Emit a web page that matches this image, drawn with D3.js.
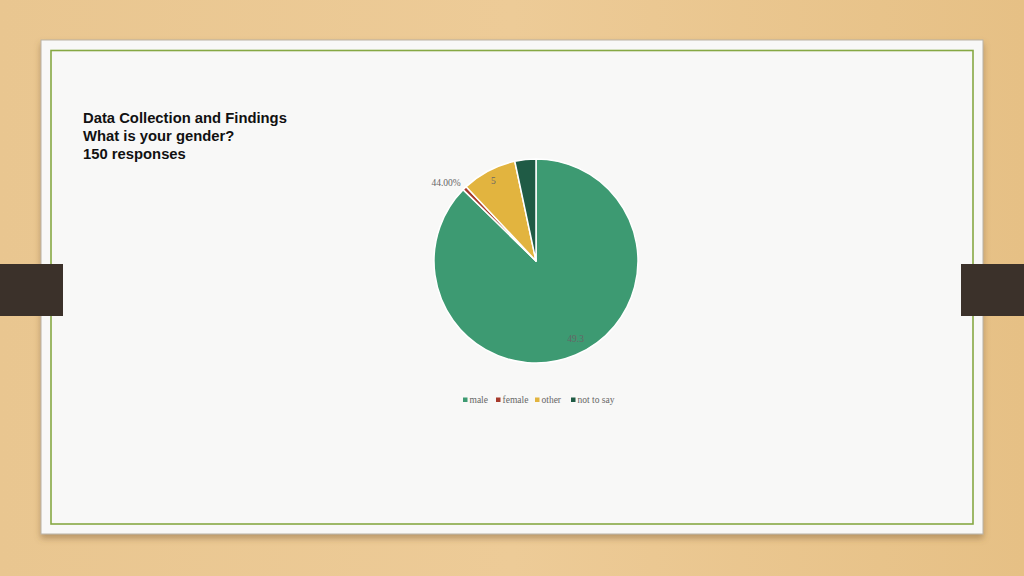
<!DOCTYPE html>
<html lang="en">
<head>
    <meta charset="UTF-8">
    <title>gender pie</title>
    <script src="https://d3js.org/d3.v7.min.js"></script>
    <style>
        body { margin: 0; overflow: hidden; }
    </style>
</head>
<body>
<script>
    // data
    var categories = ["male", "female", "other", "not to say"];
    var counts = [131, 1, 13, 5];
    var sliceLabels = ["49.3", "44.00%", "5", ""];
    var colors = ["#3d9a72", "#a63a2c", "#e2b43f", "#1f5b45"];
    var titleLines = ["Data Collection and Findings", "What is your gender?", "150 responses"];

    var width = 1024, height = 576;

    var svg = d3.select("body").append("svg")
        .attr("width", width)
        .attr("height", height);

    var defs = svg.append("defs");
    var wood = defs.append("linearGradient").attr("id", "wood")
        .attr("x1", 0).attr("y1", 0).attr("x2", 1).attr("y2", 0);
    wood.append("stop").attr("offset", "0%").attr("stop-color", "#e9c690");
    wood.append("stop").attr("offset", "50%").attr("stop-color", "#edcb97");
    wood.append("stop").attr("offset", "100%").attr("stop-color", "#e6c085");

    var shadow = defs.append("filter").attr("id", "shadow")
        .attr("x", "-5%").attr("y", "-5%").attr("width", "110%").attr("height", "115%");
    shadow.append("feDropShadow").attr("dx", 0).attr("dy", 4)
        .attr("stdDeviation", 3).attr("flood-color", "#7a5a30").attr("flood-opacity", 0.45);

    // background + slide card
    svg.append("rect").attr("width", width).attr("height", height).attr("fill", "url(#wood)");
    svg.append("rect").attr("x", 41).attr("y", 40).attr("width", 942).attr("height", 494)
        .attr("fill", "#f8f8f7").attr("stroke", "#b9b2a4").attr("stroke-width", 1)
        .attr("filter", "url(#shadow)");
    svg.append("rect").attr("x", 51).attr("y", 50.5).attr("width", 922).attr("height", 473.5)
        .attr("fill", "none").attr("stroke", "#86a843").attr("stroke-width", 1.6);

    // side tabs
    svg.append("rect").attr("x", 0).attr("y", 264).attr("width", 63).attr("height", 52)
        .attr("fill", "#3b312a");
    svg.append("rect").attr("x", 961).attr("y", 264).attr("width", 63).attr("height", 52)
        .attr("fill", "#3b312a");

    // title
    svg.append("g").selectAll("text")
        .data(titleLines)
        .enter().append("text")
        .attr("x", 83)
        .attr("y", function (d, i) { return 123 + i * 18; })
        .attr("font-family", "Liberation Sans, Arial, sans-serif")
        .attr("font-weight", "bold")
        .attr("font-size", 14.8)
        .attr("fill", "#111")
        .text(function (d) { return d; });

    // pie
    var cx = 536, cy = 261, r = 102;
    var pie = d3.pie().sort(null).value(function (d) { return d; });
    var arc = d3.arc().innerRadius(0).outerRadius(r);
    var arcs = pie(counts);

    var g = svg.append("g").attr("transform", "translate(" + cx + "," + cy + ")");
    g.selectAll("path")
        .data(arcs)
        .enter().append("path")
        .attr("d", arc)
        .attr("fill", function (d, i) { return colors[i]; })
        .attr("stroke", "#ffffff")
        .attr("stroke-width", 1.5)
        .attr("stroke-linejoin", "round");

    // data labels (odd values as shown on the slide)
    var labelRadius = [0.85, 1.12, 0.9, 0.8];
    var labelShift = [[6, -2], [-10, 3], [0, 1], [0, 0]];
    g.selectAll("text.lbl")
        .data(arcs)
        .enter().append("text")
        .attr("class", "lbl")
        .attr("transform", function (d, i) {
            var rr = r * labelRadius[i];
            var c = d3.arc().innerRadius(rr).outerRadius(rr).centroid(d);
            return "translate(" + (c[0] + labelShift[i][0]) + "," + (c[1] + labelShift[i][1]) + ")";
        })
        .attr("text-anchor", "middle")
        .attr("dy", "0.35em")
        .attr("font-family", "Liberation Serif, serif")
        .attr("font-size", 9.5)
        .attr("fill", "#666")
        .text(function (d, i) { return sliceLabels[i]; });

    // legend
    var legendX = [463, 496, 535, 571];
    var legend = svg.append("g").attr("transform", "translate(0,400)");
    var item = legend.selectAll("g")
        .data(categories)
        .enter().append("g")
        .attr("transform", function (d, i) { return "translate(" + legendX[i] + ",0)"; });
    item.append("rect")
        .attr("x", 0).attr("y", -2.5).attr("width", 4.5).attr("height", 4.5)
        .attr("fill", function (d, i) { return colors[i]; });
    item.append("text")
        .attr("x", 6.5).attr("dy", "0.35em")
        .attr("font-family", "Liberation Serif, serif")
        .attr("font-size", 9.5)
        .attr("fill", "#666")
        .text(function (d) { return d; });
</script>
</body>
</html>
